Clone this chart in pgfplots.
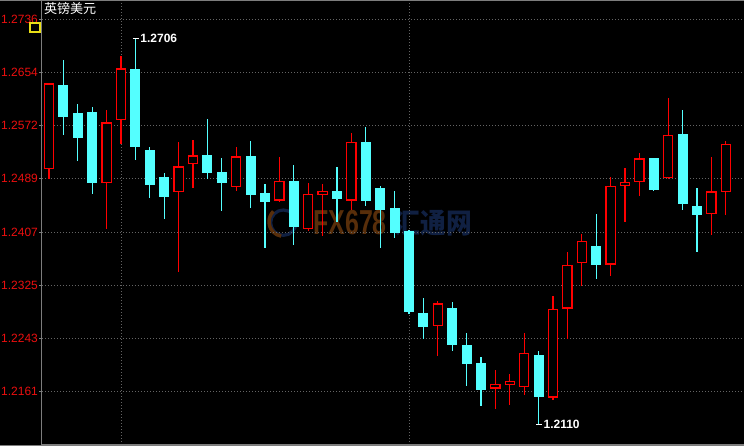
\documentclass[border=0pt]{standalone}
\usepackage{pgfplots}
\pgfplotsset{compat=1.18}
\usepackage{pgfplotstable}
\usepackage{fontspec}
\setmainfont{Liberation Sans}
\newfontfamily\cjk{Noto Sans CJK SC}
\definecolor{candred}{RGB}{255,0,0}
\definecolor{candcyan}{RGB}{84,255,255}
\definecolor{labred}{RGB}{235,15,15}
\definecolor{gridgray}{RGB}{100,100,100}
\definecolor{axgray}{RGB}{125,125,125}
\definecolor{wmorange}{RGB}{88,46,10}
\definecolor{wmblue}{RGB}{16,32,66}

% up (red, hollow) candles: x O H L C
\pgfplotstableread{
x O H L C
1 1.2504 1.2637 1.2489 1.2637
5 1.2483 1.2596 1.2412 1.2577
6 1.2580 1.2679 1.2544 1.2660
10 1.2469 1.2546 1.2346 1.2509
11 1.2512 1.2549 1.2476 1.2526
14 1.2477 1.2539 1.2471 1.2524
17 1.2456 1.2523 1.2453 1.2486
19 1.2412 1.2483 1.2409 1.2466
20 1.2465 1.2481 1.2401 1.2471
22 1.2456 1.2560 1.2441 1.2547
28 1.2262 1.2300 1.2215 1.2297
32 1.2165 1.2194 1.2134 1.2173
33 1.2170 1.2188 1.2140 1.2177
34 1.2167 1.2251 1.2156 1.2220
36 1.2151 1.2308 1.2147 1.2289
37 1.2289 1.2376 1.2242 1.2357
38 1.2359 1.2404 1.2324 1.2394
40 1.2357 1.2492 1.2340 1.2479
41 1.2478 1.2506 1.2423 1.2485
42 1.2484 1.2529 1.2463 1.2521
44 1.2490 1.2614 1.2490 1.2557
47 1.2435 1.2523 1.2403 1.2470
48 1.2469 1.2548 1.2434 1.2544
}\up

% down (cyan, filled) candles: x O H L C
\pgfplotstableread{
x O H L C
2 1.2634 1.2673 1.2557 1.2585
3 1.2591 1.2605 1.2517 1.2553
4 1.2593 1.2600 1.2466 1.2483
7 1.2659 1.2706 1.2519 1.2538
8 1.2534 1.2539 1.2460 1.2480
9 1.2492 1.2498 1.2427 1.2462
12 1.2526 1.2582 1.2490 1.2499
13 1.2500 1.2522 1.2440 1.2483
15 1.2525 1.2548 1.2445 1.2465
16 1.2468 1.2481 1.2383 1.2454
18 1.2486 1.2511 1.2387 1.2415
21 1.2471 1.2508 1.2423 1.2459
23 1.2546 1.2570 1.2447 1.2456
24 1.2475 1.2478 1.2383 1.2442
25 1.2444 1.2471 1.2398 1.2406
26 1.2409 1.2411 1.2281 1.2284
27 1.2282 1.2305 1.2242 1.2260
29 1.2290 1.2299 1.2224 1.2233
30 1.2233 1.2251 1.2170 1.2203
31 1.2205 1.2214 1.2139 1.2163
35 1.2217 1.2223 1.2110 1.2153
39 1.2386 1.2435 1.2335 1.2357
43 1.2522 1.2522 1.2470 1.2473
45 1.2559 1.2596 1.2442 1.2451
46 1.2447 1.2475 1.2376 1.2434
}\down

\begin{document}
\begin{tikzpicture}
\useasboundingbox (0,0) rectangle (558pt,334.5pt);
\fill[black] (0,0) rectangle (558pt,334.5pt);
% watermark
\draw[wmblue, line width=2.4pt] (212.5pt,167.5pt) circle (9.5pt);
\draw[wmorange, line width=2.6pt] (205pt,176pt) arc (135:260:11pt);
\node[text=wmorange, font=\bfseries\fontsize{26}{26}\selectfont, xscale=0.72, inner sep=0pt] at (262.5pt,167.5pt) {FX678};
\node[text=wmblue, font=\cjk\bfseries\fontsize{21}{21}\selectfont, xscale=0.92, inner sep=0pt] at (325pt,167.5pt) {汇通网};
\begin{axis}[
  at={(31.5pt,0.75pt)}, anchor=south west,
  scale only axis, width=526.5pt, height=333.75pt,
  xmin=0.5139, xmax=49.264, ymin=1.207804, ymax=1.276583,
  axis lines*=left, axis line style={-, axgray, line width=0.75pt},
  xtick={6,26}, xticklabels={}, xtick style={draw=none},
  ytick={1.2161,1.22431,1.23253,1.24074,1.24896,1.25717,1.26539,1.2736},
  yticklabels={1.2161,1.2243,1.2325,1.2407,1.2489,1.2572,1.2654,1.2736},
  minor y tick num=4,
  tick align=outside, major tick length=2pt, minor tick length=1.6pt,
  ytick style={axgray, line width=0.6pt},
  yticklabel style={font=\fontsize{9}{9}\selectfont, text=labred, inner sep=0pt, xshift=-0.9pt},
  xmajorgrids, ymajorgrids,
  major grid style={gridgray, line width=0.6pt, dash pattern=on 0.75pt off 1.5pt},
  clip=true,
]
% wicks
\addplot[draw=none, mark=none, error bars/.cd, y dir=both, y explicit, error mark=none,
  error bar style={line width=0.9pt, candred, line cap=butt}]
  table[x=x, y expr={(\thisrow{H}+\thisrow{L})/2}, y error expr={(\thisrow{H}-\thisrow{L})/2}] {\up};
\addplot[draw=none, mark=none, error bars/.cd, y dir=both, y explicit, error mark=none,
  error bar style={line width=0.8pt, candcyan, line cap=butt}]
  table[x=x, y expr={(\thisrow{H}+\thisrow{L})/2}, y error expr={(\thisrow{H}-\thisrow{L})/2}] {\down};
% bodies
\addplot[draw=none, mark=none, error bars/.cd, y dir=both, y explicit, error mark=none,
  error bar style={line width=7.6pt, candcyan, line cap=butt}]
  table[x=x, y expr={(\thisrow{O}+\thisrow{C})/2}, y error expr={abs(\thisrow{O}-\thisrow{C})/2}] {\down};
\addplot[draw=none, mark=none, error bars/.cd, y dir=both, y explicit, error mark=none,
  error bar style={line width=7.9pt, candred, line cap=butt}]
  table[x=x, y expr={(\thisrow{O}+\thisrow{C})/2}, y error expr={abs(\thisrow{O}-\thisrow{C})/2}] {\up};
\addplot[draw=none, mark=none, error bars/.cd, y dir=both, y explicit, error mark=none,
  error bar style={line width=5.9pt, black, line cap=butt}]
  table[x=x, y expr={(\thisrow{O}+\thisrow{C})/2}, y error expr={abs(\thisrow{O}-\thisrow{C})/2-0.000206}] {\up};
% extreme labels
\draw[white, line width=0.75pt] (axis cs:6.83,1.2706) -- (axis cs:7.24,1.2706);
\node[anchor=west, inner sep=0pt, text=white, font=\bfseries\fontsize{9}{9}\selectfont] at (axis cs:7.33,1.2706) {1.2706};
\draw[white, line width=0.75pt] (axis cs:34.82,1.2110) -- (axis cs:35.22,1.2110);
\node[anchor=west, inner sep=0pt, text=white, font=\bfseries\fontsize{9}{9}\selectfont] at (axis cs:35.33,1.2110) {1.2110};
\end{axis}
% frame lines
\draw[axgray, line width=0.75pt] (0,334.1pt) -- (558pt,334.1pt);
\draw[axgray, line width=0.75pt] (0,0.4pt) -- (558pt,0.4pt);
% title and icon
\node[anchor=north west, inner sep=0pt, text=white, font=\cjk\fontsize{9.8}{9.8}\selectfont] at (32.8pt,332.6pt) {英镑美元};
\draw[yellow!90!black, line width=1.3pt] (22.6pt,310.6pt) rectangle (30pt,317pt);
\end{tikzpicture}
\end{document}
